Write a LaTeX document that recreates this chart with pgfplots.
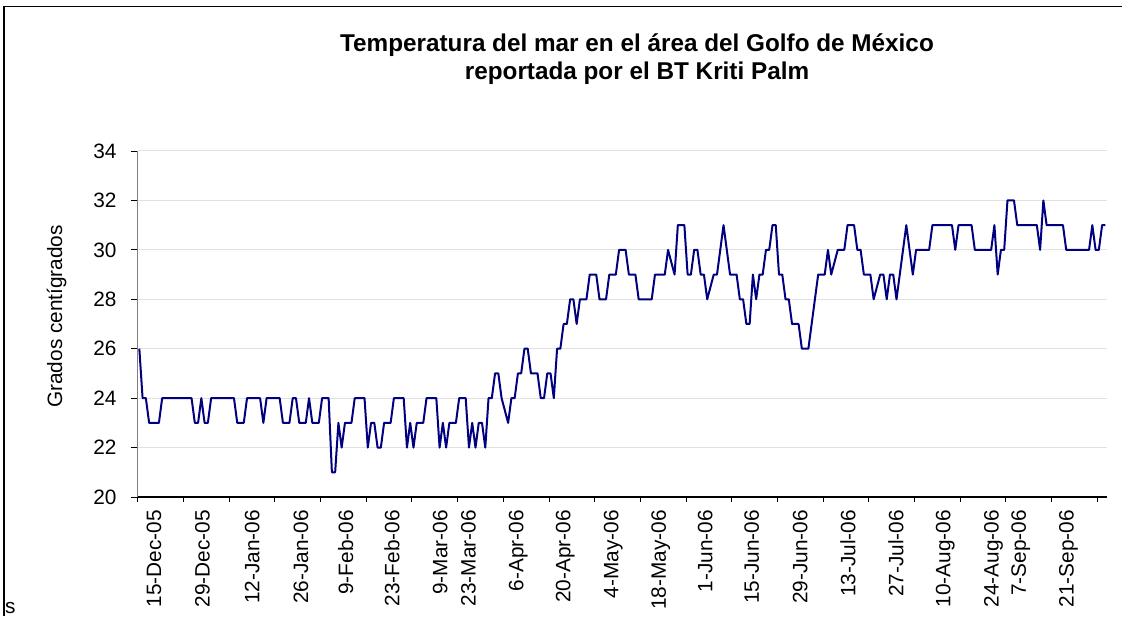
\documentclass[border=0pt]{standalone}
\usepackage{pgfplots}
\pgfplotsset{compat=1.18}
\usepackage{fontspec}
\setmainfont{Liberation Sans}
\definecolor{navyline}{RGB}{0,0,128}
\definecolor{gridgray}{RGB}{225,225,225}
\begin{document}
\begin{tikzpicture}[x=1pt,y=1pt]
\useasboundingbox (0,0) rectangle (1122,616);
\draw[line width=1.8pt] (3.8,0) -- (3.8,609.5) -- (1122,609.5);
\node[font=\fontsize{24.3}{28}\selectfont\bfseries, align=center] at (637,557) {Temperatura del mar en el área del Golfo de México\\reportada por el BT Kriti Palm};
\node[font=\fontsize{20.8}{24}\selectfont, anchor=base west, inner sep=0pt] at (5,3) {s};
\begin{axis}[
  at={(137.7pt,119pt)}, anchor=south west,
  scale only axis, width=969.3pt, height=346pt,
  xmin=-0.5, xmax=296.5, ymin=20, ymax=34,
  ytick={20,22,...,34},
  ymajorgrids, grid style={gridgray, line width=1pt},
  axis x line*=bottom, axis y line*=left,
  x axis line style={black, line width=1pt, -},
  y axis line style={gray, line width=1pt, -},
  tick align=outside,
  major tick length=7pt, minor tick length=5pt,
  every tick/.style={black, line width=0.8pt},
  every major x tick/.append style={draw=none},
  xtick={5.6,20.4,35.7,50.6,64.4,78.6,93.3,101.9,116.6,131,145.7,160.2,174.5,188.7,203.6,218.3,233,247.4,262.2,270.5,285.2},
  xticklabels={15-Dec-05,29-Dec-05,12-Jan-06,26-Jan-06,9-Feb-06,23-Feb-06,9-Mar-06,23-Mar-06,6-Apr-06,20-Apr-06,4-May-06,18-May-06,1-Jun-06,15-Jun-06,29-Jun-06,13-Jul-06,27-Jul-06,10-Aug-06,24-Aug-06,7-Sep-06,21-Sep-06},
  minor xtick={-0.5,13.5,...,293.5},
  ticklabel style={font=\fontsize{20.8}{24}\selectfont},
  xticklabel style={rotate=90, anchor=east, inner sep=0pt, text height=0.72em, text depth=0pt, xshift=-6pt},
  yticklabel style={anchor=east, inner sep=0pt, xshift=-14pt},
  /pgf/number format/assume math mode=true,
  ylabel={Grados centígrados},
  ylabel style={font=\fontsize{20.8}{24}\selectfont, at={(axis description cs:-0.0836,0.522)}, anchor=center},
]
\addplot[navyline, line width=2pt, line join=round] coordinates {
(0,26)(1,24)(2,24)(3,23)(6,23)(7,24)(16,24)(17,23)(18,23)(19,24)(20,23)(21,23)(22,24)
(29,24)(30,23)(32,23)(33,24)(37,24)(38,23)(39,24)(43,24)(44,23)(46,23)(47,24)(48,24)
(49,23)(51,23)(52,24)(53,23)(55,23)(56,24)(58,24)(59,21)(60,21)(61,23)(62,22)(63,23)
(65,23)(66,24)(69,24)(70,22)(71,23)(72,23)(73,22)(74,22)(75,23)(77,23)(78,24)(81,24)
(82,22)(83,23)(84,22)(85,23)(87,23)(88,24)(91,24)(92,22)(93,23)(94,22)(95,23)(97,23)
(98,24)(100,24)(101,22)(102,23)(103,22)(104,23)(105,23)(106,22)(107,24)(108,24)(109,25)
(110,25)(111,24)(113,23)(114,24)(115,24)(116,25)(117,25)(118,26)(119,26)(120,25)(122,25)
(123,24)(124,24)(125,25)(126,25)(127,24)(128,26)(129,26)(130,27)(131,27)(132,28)(133,28)
(134,27)(135,28)(137,28)(138,29)(140,29)(141,28)(143,28)(144,29)(146,29)(147,30)(149,30)
(150,29)(152,29)(153,28)(157,28)(158,29)(161,29)(162,30)(164,29)(165,31)(167,31)(168,29)
(169,29)(170,30)(171,30)(172,29)(173,29)(174,28)(176,29)(177,29)(179,31)(181,29)(183,29)
(184,28)(185,28)(186,27)(187,27)(188,29)(189,28)(190,29)(191,29)(192,30)(193,30)(194,31)
(195,31)(196,29)(197,29)(198,28)(199,28)(200,27)(202,27)(203,26)(205,26)(206,27)(207,28)
(208,29)(210,29)(211,30)(212,29)(214,30)(216,30)(217,31)(219,31)(220,30)(221,30)(222,29)
(224,29)(225,28)(227,29)(228,29)(229,28)(230,29)(231,29)(232,28)(233,29)(234,30)(235,31)
(237,29)(238,30)(242,30)(243,31)(249,31)(250,30)(251,31)(255,31)(256,30)(261,30)(262,31)
(263,29)(264,30)(265,30)(266,32)(268,32)(269,31)(275,31)(276,30)(277,32)(278,31)(283,31)
(284,30)(291,30)(292,31)(293,30)(294,30)(295,31)(296,31)
};
\end{axis}
\end{tikzpicture}
\end{document}
